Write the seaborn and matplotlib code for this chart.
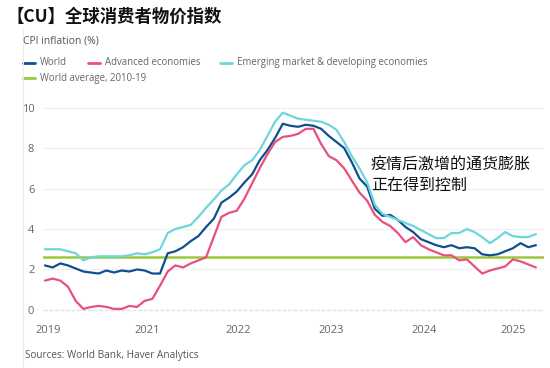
import numpy as np
import pandas as pd
import seaborn as sns
import matplotlib.pyplot as plt
from matplotlib.lines import Line2D

# monthly CPI inflation readings (%)
world = [2.2, 2.1, 2.3, 2.2, 2.05, 1.9, 1.85, 1.8, 1.95, 1.85, 1.95, 1.9, 2.0, 1.95, 1.8, 1.8,
         2.8, 2.9, 3.1, 3.4, 3.65, 4.1, 4.5, 5.3, 5.55, 5.85, 6.3, 6.7, 7.4, 7.9, 8.5, 9.2,
         9.1, 9.05, 9.15, 9.1, 8.95, 8.6, 8.3, 8.0, 7.3, 6.5, 6.1, 5.0, 4.65, 4.7, 4.45, 4.1,
         3.85, 3.5, 3.35, 3.2, 3.1, 3.2, 3.05, 3.1, 3.05, 2.75, 2.7, 2.75, 2.9, 3.05, 3.3, 3.1, 3.2]
advanced = [1.45, 1.55, 1.45, 1.15, 0.45, 0.05, 0.15, 0.2, 0.15, 0.05, 0.05, 0.2, 0.15, 0.45, 0.55, 1.2,
            1.9, 2.2, 2.1, 2.3, 2.45, 2.6, 3.6, 4.6, 4.8, 4.9, 5.5, 6.25, 7.0, 7.7, 8.3, 8.55,
            8.6, 8.7, 8.95, 8.95, 8.2, 7.6, 7.4, 7.0, 6.4, 5.8, 5.4, 4.7, 4.35, 4.15, 3.8, 3.35,
            3.6, 3.2, 3.0, 2.85, 2.7, 2.7, 2.45, 2.5, 2.15, 1.8, 1.95, 2.05, 2.15, 2.5, 2.4, 2.25, 2.1]
emerging = [3.0, 3.0, 3.0, 2.9, 2.8, 2.45, 2.6, 2.65, 2.65, 2.65, 2.65, 2.7, 2.8, 2.75, 2.85, 3.0,
            3.8, 4.0, 4.1, 4.2, 4.6, 5.05, 5.45, 5.9, 6.2, 6.7, 7.15, 7.4, 7.9, 8.6, 9.3, 9.75,
            9.6, 9.45, 9.4, 9.35, 9.3, 9.15, 8.9, 8.3, 7.6, 7.0, 6.3, 5.2, 4.75, 4.6, 4.45, 4.3,
            4.15, 3.95, 3.75, 3.55, 3.55, 3.8, 3.8, 4.0, 3.85, 3.6, 3.3, 3.55, 3.85, 3.65, 3.6, 3.6, 3.75]
world_avg = 2.6

series_names = ['World', 'Advanced economies', 'Emerging market & developing economies']
avg_name = 'World average, 2010-19'
colors = ['#0f4f8f', '#e8507e', '#6dd6dc']
avg_color = '#9cc83c'

year_labels = ['2019', '2021', '2022', '2023', '2024', '2025']
year_ticks = [0.4, 13.3, 25.2, 37.3, 49.4, 61.0]
y_ticks = [0, 2, 4, 6, 8, 10]

title = '【CU】全球消费者物价指数'
subtitle = 'CPI inflation (%)'
note = '疫情后激增的通货膨胀\n正在得到控制'
source = 'Sources: World Bank, Haver Analytics'

months = np.arange(len(world))
df = pd.DataFrame({'month': np.tile(months, 3),
                   'value': world + advanced + emerging,
                   'series': np.repeat(series_names, len(months))})

sns.set_style('white')
plt.rcParams['font.family'] = ['Open Sans', 'Noto Sans CJK SC', 'DejaVu Sans']

fig = plt.figure(figsize=(5.5, 3.68), dpi=100)
ax = fig.add_axes([0.0776, 0.1467, 0.9107, 0.583])

ax.axhline(world_avg, color=avg_color, lw=1.8, zorder=1)
sns.lineplot(data=df, x='month', y='value', hue='series', hue_order=series_names,
             palette=colors, linewidth=1.6, legend=False, ax=ax, zorder=3)

ax.set_xlim(-0.3, 65)
ax.set_ylim(-0.2, 10.4)
ax.set_yticks(y_ticks)
ax.set_xticks(year_ticks)
ax.set_xticklabels(year_labels)
ax.set_xlabel('')
ax.set_ylabel('')
for y in y_ticks[1:]:
    ax.axhline(y, color='#f0f0f0', lw=0.8, zorder=0)
ax.axhline(0, color='#e2e2e2', lw=1.0, ls=(0, (3, 1)), zorder=0)
for s in ax.spines.values():
    s.set_visible(False)
ax.tick_params(axis='both', length=0, labelsize=8, labelcolor='#666666')
ax.tick_params(axis='y', pad=6)
ax.tick_params(axis='x', pad=8)

ax.text(42.5, 7.55, note, fontsize=11.5, color='#111111', va='top', ha='left',
        linespacing=1.25, family=['Noto Sans CJK SC', 'DejaVu Sans'])

fig.text(0.012, 0.955, title, fontsize=12.5, fontweight='bold', color='#111111',
         family=['Noto Sans CJK SC', 'DejaVu Sans'], va='center')
fig.text(0.042, 0.888, subtitle, fontsize=7.5, color='#555555', va='center')

# legend drawn by hand to keep the FT two-row layout
leg_rows = [(0.829, [(0.042, series_names[0], colors[0]),
                     (0.160, series_names[1], colors[1]),
                     (0.400, series_names[2], colors[2])]),
            (0.788, [(0.042, avg_name, avg_color)])]
for yy, items in leg_rows:
    for xx, label, c in items:
        fig.add_artist(Line2D([xx, xx + 0.022], [yy, yy], color=c, lw=2,
                              transform=fig.transFigure))
        fig.text(xx + 0.031, yy, label, fontsize=6.9, color='#666666', va='center')

fig.add_artist(Line2D([0.042, 0.042], [0.0, 0.92], color='#ececec', lw=0.8,
                      transform=fig.transFigure))
fig.text(0.045, 0.033, source, fontsize=7.2, color='#555555', va='center')

fig.savefig('out.png', dpi=100, facecolor='white')
